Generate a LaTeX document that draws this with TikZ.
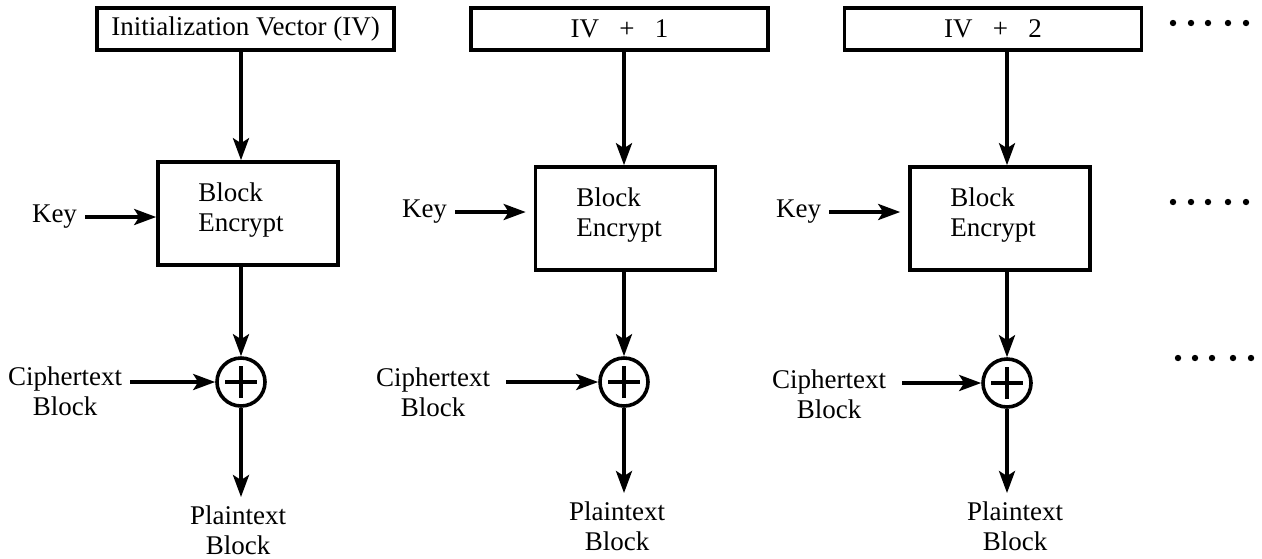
\documentclass[tikz,border=0pt]{standalone}
\usepackage{fontspec}
\setmainfont{Liberation Serif}
\usetikzlibrary{arrows.meta, positioning, calc}

\begin{document}
\begin{tikzpicture}[x=0.5pt, y=-0.5pt, line width=1.8pt,
        font=\fontsize{13.5pt}{15pt}\selectfont,
        >={Stealth[length=11pt, width=8pt, inset=2.5pt]},
        ivbox/.style={draw, minimum width=148.5pt, minimum height=21pt, inner sep=0pt},
        encbox/.style={draw, minimum width=90pt, minimum height=51.5pt},
        xor/.style={circle, draw, minimum size=24pt, inner sep=0pt,
            path picture={\draw (path picture bounding box.center) ++(-8pt,0) -- ++(16pt,0)
                (path picture bounding box.center) ++(0,-8pt) -- ++(0,16pt);}}]
        \useasboundingbox (0,0) rectangle (1262,558);
        % first counter
        \node[ivbox] (iv1) at (245.5,29) {Initialization Vector (IV)};
        \node[encbox] (enc1) at (248,213.5) {};
        \node[align=left] (lbl1) at (241,210) {Block\\Encrypt};
        \node (key1) at (54.5,217) {Key};
        \node[xor] (xor1) at (241,382) {};
        \node[align=center] (ct1) at (65,391) {Ciphertext\\Block};
        \node[align=center] (pt1) at (238,530) {Plaintext\\Block};
        \draw[->] (iv1.south -| xor1) -- (enc1.north -| xor1);
        \draw[->] (key1.east) -- (key1.east -| enc1.west);
        \draw[->] (enc1.south -| xor1) -- (xor1.north);
        \draw[->] (ct1.east |- xor1) -- (xor1.west);
        \draw[->] (xor1.south) -- (xor1 |- pt1.north);
        % second counter
        \node[ivbox] (iv2) at (619.5,29) {IV~~~+~~~1};
        \node[encbox] (enc2) at (625.5,218.5) {};
        \node[align=left] (lbl2) at (619,215) {Block\\Encrypt};
        \node (key2) at (424.5,212) {Key};
        \node[xor] (xor2) at (624,382) {};
        \node[align=center] (ct2) at (433,392) {Ciphertext\\Block};
        \node[align=center] (pt2) at (617,526) {Plaintext\\Block};
        \draw[->] (iv2.south -| xor2) -- (enc2.north -| xor2);
        \draw[->, shorten >=4pt] (key2.east) -- (key2.east -| enc2.west);
        \draw[->] (enc2.south -| xor2) -- (xor2.north);
        \draw[->, shorten <=4pt] (ct2.east |- xor2) -- (xor2.west);
        \draw[->] (xor2.south) -- (xor2 |- pt2.north);
        % third counter
        \node[ivbox] (iv3) at (993,29) {IV~~~+~~~2};
        \node[encbox] (enc3) at (1000,218.5) {};
        \node[align=left] (lbl3) at (993,215) {Block\\Encrypt};
        \node (key3) at (798.5,212) {Key};
        \node[xor] (xor3) at (1007,383) {};
        \node[align=center] (ct3) at (829,394) {Ciphertext\\Block};
        \node[align=center] (pt3) at (1015,526) {Plaintext\\Block};
        \draw[->] (iv3.south -| xor3) -- (enc3.north -| xor3);
        \draw[->, shorten >=4pt] (key3.east) -- (key3.east -| enc3.west);
        \draw[->] (enc3.south -| xor3) -- (xor3.north);
        \draw[->, shorten <=4pt] (ct3.east |- xor3) -- (xor3.west);
        \draw[->] (xor3.south) -- (xor3 |- pt3.north);
        % more stages
        \fill (1173,23) circle (1.6pt) (1191,23) circle (1.6pt) (1208,23) circle (1.6pt)
              (1228,23) circle (1.6pt) (1246,23) circle (1.6pt);
        \fill (1173,202) circle (1.6pt) (1191,202) circle (1.6pt) (1208,202) circle (1.6pt)
              (1228,202) circle (1.6pt) (1246,202) circle (1.6pt);
        \fill (1178,358) circle (1.6pt) (1195,358) circle (1.6pt) (1212,358) circle (1.6pt)
              (1233,358) circle (1.6pt) (1251,358) circle (1.6pt);
\end{tikzpicture}
\end{document}
